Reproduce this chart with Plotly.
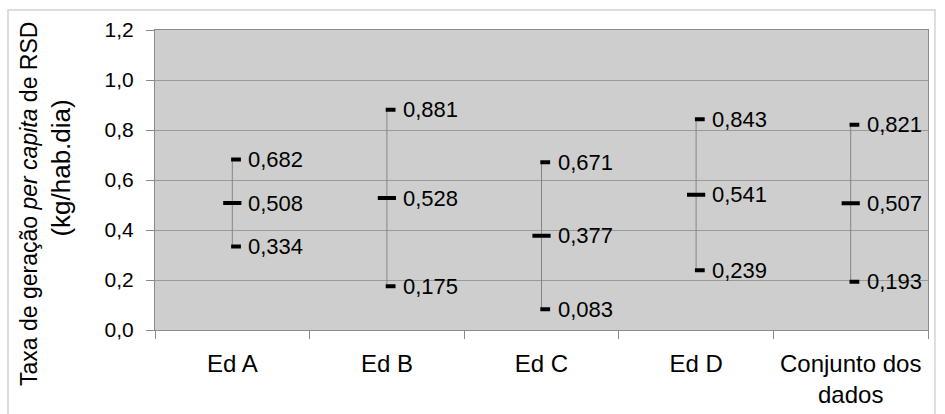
import plotly.graph_objects as go

categories = ["Ed A", "Ed B", "Ed C", "Ed D", "Conjunto dos<br>dados"]
high_values = [0.682, 0.881, 0.671, 0.843, 0.821]
mean_values = [0.508, 0.528, 0.377, 0.541, 0.507]
low_values = [0.334, 0.175, 0.083, 0.239, 0.193]
y_ticks = [0.0, 0.2, 0.4, 0.6, 0.8, 1.0, 1.2]
title_line1 = "Taxa de geração <i>per capita</i> de RSD"
title_line2 = "(kg/hab.dia)"

FONT = "Liberation Sans, Arial, sans-serif"
HL_SHIFT = 0.024  # category units: high/low dashes sit just right of the range line

def fmt(v):
    return f"{v:.3f}".replace(".", ",")

fig = go.Figure()

# vertical range lines (low to high) via asymmetric error bars around the mean
fig.add_trace(go.Scatter(
    x=categories, y=mean_values, mode="markers",
    marker=dict(symbol="line-ew", size=13, color="black",
                line=dict(color="black", width=4)),
    error_y=dict(type="data", symmetric=False,
                 array=[h - m for h, m in zip(high_values, mean_values)],
                 arrayminus=[m - l for m, l in zip(mean_values, low_values)],
                 width=0, color="#858585", thickness=1),
    hoverinfo="skip", showlegend=False,
))
# high / low dashes on a slightly shifted overlay axis
for vals in (high_values, low_values):
    fig.add_trace(go.Scatter(
        x=categories, y=vals, mode="markers", xaxis="x2",
        marker=dict(symbol="line-ew", size=7, color="black",
                    line=dict(color="black", width=4)),
        hoverinfo="skip", showlegend=False,
    ))

annotations = []
for vals in (high_values, mean_values, low_values):
    for c, v in zip(categories, vals):
        annotations.append(dict(
            x=c, y=v, xref="x", yref="y", text=fmt(v), showarrow=False,
            xanchor="left", yanchor="middle", xshift=14,
            font=dict(family=FONT, size=22, color="black"),
        ))
annotations.append(dict(
    x=-0.163, y=0.42, xref="paper", yref="paper", text=title_line1,
    showarrow=False, textangle=-90, xanchor="center", yanchor="middle",
    font=dict(family=FONT, size=23, color="black"),
))
annotations.append(dict(
    x=-0.1216, y=0.538, xref="paper", yref="paper", text=title_line2,
    showarrow=False, textangle=-90, xanchor="center", yanchor="middle",
    font=dict(family=FONT, size=26, color="black"),
))

n = len(categories)
fig.update_layout(
    width=945, height=414,
    margin=dict(l=155, r=17, t=30, b=84, autoexpand=False),
    paper_bgcolor="white", plot_bgcolor="#cecece",
    separators=",.",
    font=dict(family=FONT, size=20, color="black"),
    annotations=annotations,
    shapes=[dict(type="rect", xref="paper", yref="paper",
                 x0=-0.1902, x1=1.009, y0=-0.35, y1=1.0667,
                 line=dict(color="#d2d2d2", width=1.5), layer="below")],
    xaxis2=dict(type="category", overlaying="x", visible=False,
                categoryorder="array", categoryarray=categories,
                range=[-0.5 - HL_SHIFT, n - 0.5 - HL_SHIFT]),
)
fig.update_xaxes(selector=dict(overlaying=None))
fig.layout.xaxis.update(
    type="category", range=[-0.5, n - 0.5],
    categoryorder="array", categoryarray=categories,
    tickson="boundaries", ticks="outside", ticklen=8,
    tickcolor="#8a8a8a", showline=True, linecolor="#8a8a8a", linewidth=1,
    mirror=True, showgrid=False, ticklabelstandoff=12, automargin=False,
    tickfont=dict(family=FONT, size=24, color="black"),
)
fig.update_yaxes(
    range=[0, 1.2], tickvals=y_ticks, tickformat=".1f",
    ticks="outside", ticklen=8, tickcolor="#8a8a8a",
    showline=True, linecolor="#8a8a8a", linewidth=1, mirror=True,
    showgrid=True, gridcolor="#9a9a9a", gridwidth=1, zeroline=False,
    ticklabelstandoff=8, automargin=False,
    tickfont=dict(family=FONT, size=21, color="black"),
)

fig.write_html("out.html", config={"displayModeBar": False},
               post_script="document.body.style.margin='0';")
